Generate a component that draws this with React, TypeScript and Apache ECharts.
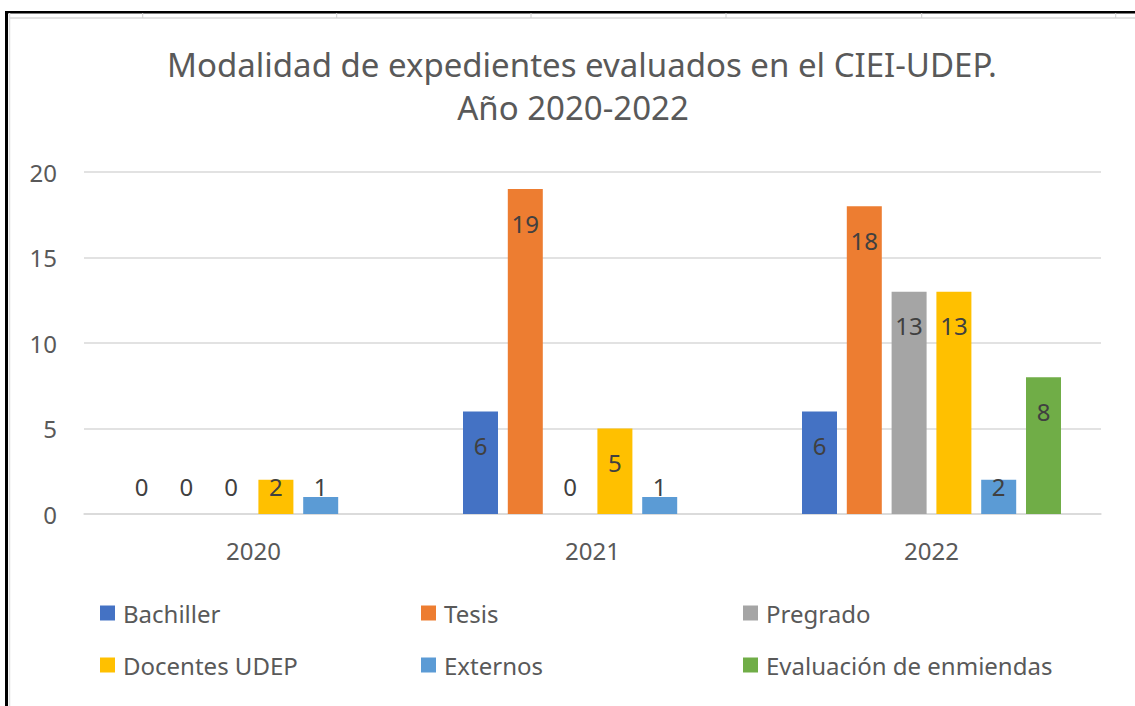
import React, { useEffect, useRef } from "react";
import * as echarts from "echarts";

const titleLines = ["Modalidad de expedientes evaluados en el CIEI-UDEP.", "Año 2020-2022"];
const years = ["2020", "2021", "2022"];
const seriesNames = ["Bachiller", "Tesis", "Pregrado", "Docentes UDEP", "Externos", "Evaluación de enmiendas"];
const bachiller = [0, 6, 6];
const tesis = [0, 19, 18];
const pregrado = [0, 0, 13];
const docentes = [2, 5, 13];
const externos = [1, 1, 2];
const evaluacion = [null, null, 8];
const yTicks = { min: 0, max: 20, interval: 5 };

const seriesValues = [bachiller, tesis, pregrado, docentes, externos, evaluacion];
const colors = ["#4472C4", "#ED7D31", "#A5A5A5", "#FFC000", "#5B9BD5", "#70AD47"];
const FONT = "'Noto Sans', sans-serif";
const GRAY = "#595959";

const legendPos = [
  { left: 100, top: 601 },
  { left: 421, top: 601 },
  { left: 743, top: 601 },
  { left: 100, top: 653 },
  { left: 421, top: 653 },
  { left: 743, top: 653 },
];
const titlePos = [
  { left: 582, top: 43 },
  { left: 573, top: 86 },
];

export default function App() {
  const ref = useRef<HTMLDivElement>(null);
  useEffect(() => {
    if (!ref.current) return;
    const chart = echarts.init(ref.current, null, { renderer: "svg" });
    const series = seriesNames.map((name, i) => ({
      name,
      type: "bar",
      barWidth: 35,
      barGap: "28%",
      itemStyle: { color: colors[i] },
      label: {
        show: true,
        position: "insideTop",
        distance: 22,
        color: "#404040",
        fontSize: 24,
        fontFamily: FONT,
      },
      data: seriesValues[i].map((v) =>
        v === null
          ? null
          : v <= 2
          ? { value: v, label: { position: "insideBottom", distance: 16 } }
          : { value: v }
      ),
    }));
    const cellTicks = [142.7, 336.7, 531, 726, 921.7, 1115.7].map((x) => ({
      type: "line",
      shape: { x1: x, y1: 13, x2: x, y2: 18 },
      style: { stroke: "#D0D0D0", lineWidth: 1 },
      silent: true,
    }));
    chart.setOption({
      animation: false,
      backgroundColor: "#ffffff",
      title: titleLines.map((t, i) => ({
        text: t,
        left: titlePos[i].left,
        top: titlePos[i].top,
        textAlign: "center",
        padding: 0,
        textStyle: {
          fontFamily: FONT,
          fontSize: 33,
          fontWeight: "normal",
          color: GRAY,
          lineHeight: 42,
        },
      })),
      legend: seriesNames.map((name, i) => ({
        data: [name],
        left: legendPos[i].left,
        top: legendPos[i].top,
        padding: 0,
        icon: "rect",
        itemWidth: 15,
        itemHeight: 15,
        textStyle: { fontFamily: FONT, fontSize: 24, color: GRAY, padding: [0, 0, 0, 3] },
        selectedMode: false,
      })),
      grid: { left: 84, right: 34, top: 172, bottom: 192, containLabel: false },
      xAxis: {
        type: "category",
        data: years,
        axisLine: { show: true, lineStyle: { color: "#D9D9D9", width: 1.5 } },
        axisTick: { show: false },
        axisLabel: { fontFamily: FONT, fontSize: 24, color: GRAY, margin: 24 },
      },
      yAxis: {
        type: "value",
        min: yTicks.min,
        max: yTicks.max,
        interval: yTicks.interval,
        axisLine: { show: false },
        axisTick: { show: false },
        splitLine: { lineStyle: { color: "#D9D9D9", width: 1.5 } },
        axisLabel: { fontFamily: FONT, fontSize: 24, color: GRAY, margin: 27 },
      },
      graphic: [
        { type: "rect", shape: { x: 5, y: 11, width: 1130, height: 2.5 }, style: { fill: "#000" }, silent: true },
        { type: "rect", shape: { x: 5, y: 11, width: 3, height: 695 }, style: { fill: "#000" }, silent: true },
        { type: "line", shape: { x1: 9, y1: 18, x2: 1135, y2: 18 }, style: { stroke: "#D9D9D9", lineWidth: 1.5 }, silent: true },
        { type: "line", shape: { x1: 9.5, y1: 13, x2: 9.5, y2: 706 }, style: { stroke: "#E0E0E0", lineWidth: 1.5 }, silent: true },
        ...cellTicks,
      ],
      series,
    });
    return () => chart.dispose();
  }, []);
  return (
    <div
      ref={ref}
      style={{ position: "fixed", left: 0, top: 0, width: 1135, height: 706, background: "#fff" }}
    />
  );
}
